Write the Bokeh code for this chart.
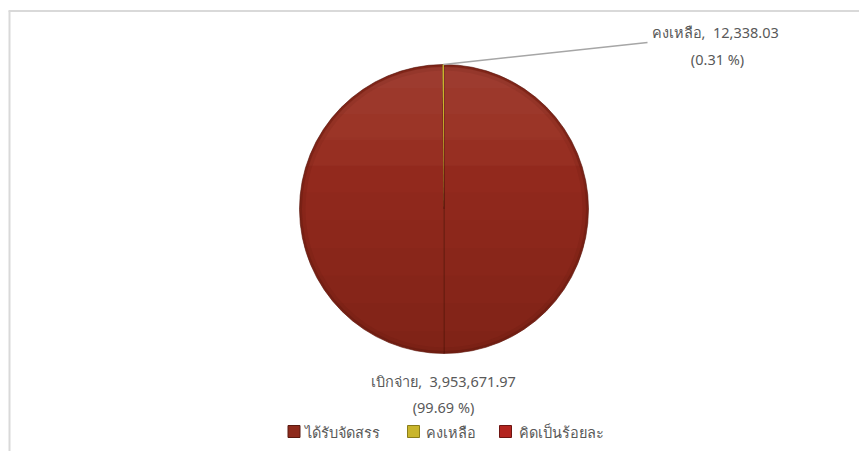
import numpy as np
from bokeh.plotting import figure
from bokeh.models import Range1d, ColumnDataSource
from bokeh.core.properties import value
from bokeh.embed import file_html
from bokeh.resources import INLINE

# ---- data ----
slice_names = ["ได้รับจัดสรร", "เบิกจ่าย", "คงเหลือ"]
slice_values = [3966010.00, 3953671.97, 12338.03]
slice_colors = ["#982d1f", "#982d1f", "#c9b42a"]
label_pcts = [None, 99.69, 0.31]
legend_labels = ["ได้รับจัดสรร", "คงเหลือ", "คิดเป็นร้อยละ"]
legend_colors = ["#8e2a1c", "#c9b52b", "#b3241f"]
legend_lines = ["#5a1a10", "#8a7d1a", "#6e1512"]

FONT = "Noto Sans"
TXT = "#595959"

W, H = 859, 451
p = figure(width=W, height=H, x_range=Range1d(0, W), y_range=Range1d(0, H),
           output_backend="svg", toolbar_location=None,
           min_border=0, min_border_left=0, min_border_right=0,
           min_border_top=0, min_border_bottom=0)
p.axis.visible = False
p.grid.visible = False
p.outline_line_color = None
p.background_fill_color = "white"

# chart area border (left & top visible)
p.line([9, 9], [0, 440.5], line_color="#d9d9d9", line_width=2)
p.line([8, W], [440.5, 440.5], line_color="#d9d9d9", line_width=2)

# ---- pie ----
cx, cy, r = 443.5, 242.5, 144.5
vals = np.array(slice_values)
frac = vals / vals.sum()
ends = np.pi / 2 - 2 * np.pi * np.cumsum(frac)
starts = np.concatenate([[np.pi / 2], ends[:-1]])
src = ColumnDataSource(dict(start=starts, end=ends, color=slice_colors))
p.wedge(x=cx, y=cy, radius=r, start_angle="start", end_angle="end",
        direction="clock", fill_color="color", line_color="#5e1a10",
        line_width=1, line_alpha=0.6, source=src)

# vertical shading: circular segments below successive levels, darkening
for lvl in np.linspace(0.5, -0.85, 8):
    a0 = np.arcsin(lvl)
    th = np.linspace(np.pi - a0, 2 * np.pi + a0, 80)
    xs = cx + (r - 1) * np.cos(th)
    ys = cy + (r - 1) * np.sin(th)
    p.patch(xs, ys, fill_color="#2a0804", fill_alpha=0.022, line_color=None)
# lighter top
for lvl in np.linspace(0.3, 0.85, 4):
    a0 = np.arcsin(lvl)
    th = np.linspace(a0, np.pi - a0, 60)
    xs = cx + (r - 2) * np.cos(th)
    ys = cy + (r - 2) * np.sin(th)
    p.patch(xs, ys, fill_color="#ffffff", fill_alpha=0.02, line_color=None)
# bevel edge
p.annular_wedge(x=cx, y=cy, inner_radius=r - 6, outer_radius=r,
                start_angle=0, end_angle=2 * np.pi, fill_color="#3a0d06",
                fill_alpha=0.08, line_color=None)
p.annular_wedge(x=cx, y=cy, inner_radius=r - 2.5, outer_radius=r,
                start_angle=0, end_angle=2 * np.pi, fill_color="#3a0d06",
                fill_alpha=0.18, line_color=None)
# redraw small slice on top so it stays visible
p.wedge(x=cx, y=cy, radius=r, start_angle=starts[2], end_angle=ends[2],
        direction="clock", fill_color=slice_colors[2], line_color=None)

# ---- data labels ----
mid_rem = (starts[2] + ends[2]) / 2
lx0, ly0 = cx + r * np.cos(mid_rem), cy + r * np.sin(mid_rem)
p.line([lx0, 647], [ly0, 409], line_color="#a6a6a6", line_width=1.5)

SP = "\u00a0\u00a0"
rem_txt = f"{slice_names[2]},{SP}{slice_values[2]:,.2f}"
rem_pct = f"({label_pcts[2]:.2f} %)"
spent_txt = f"{slice_names[1]},{SP}{slice_values[1]:,.2f}"
spent_pct = f"({label_pcts[1]:.2f} %)"

common = dict(text_font=value(FONT), text_font_size="14.5px", text_color=TXT,
              text_baseline="middle")
p.text(x=[651], y=[420], text=[rem_txt], text_align="left", **common)
p.text(x=[717], y=[393], text=[rem_pct], text_align="center", **common)
p.text(x=[443], y=[71], text=[spent_txt], text_align="center", **common)
p.text(x=[443], y=[45], text=[spent_pct], text_align="center", **common)

# ---- legend (manual) ----
sw_x = [293.5, 413, 505]
tx_x = [304, 425, 518]
leg_y = 20
p.rect(x=sw_x, y=[leg_y] * 3, width=12, height=12, fill_color=legend_colors,
       line_color=legend_lines, line_width=1)
p.text(x=tx_x, y=[leg_y] * 3, text=legend_labels, text_align="left", **common)

open("out.html", "w").write(file_html(p, INLINE))
